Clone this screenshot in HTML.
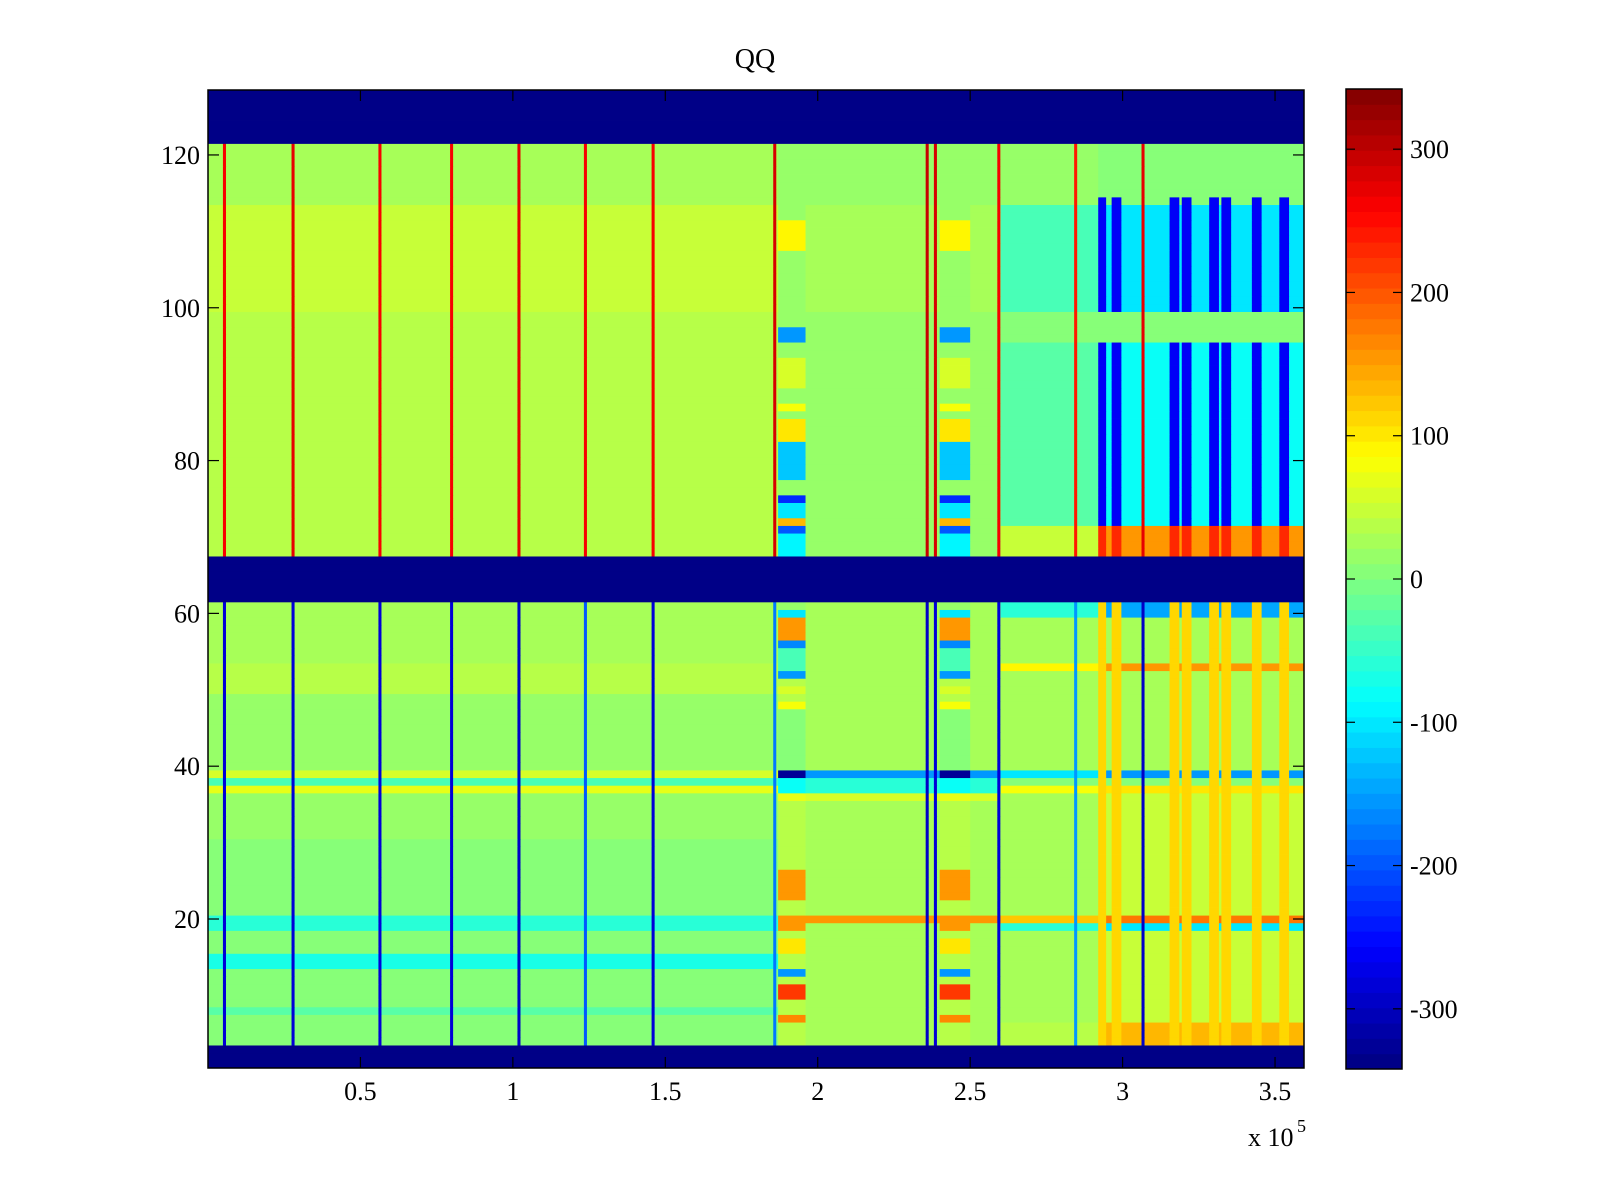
<!DOCTYPE html>
<html><head><meta charset="utf-8">
<style>
html,body{margin:0;padding:0;background:#fff;}
svg{display:block;font-family:"Liberation Serif","DejaVu Serif",serif;}
</style></head>
<body>
<svg id="chart" width="1600" height="1200" viewBox="0 0 1600 1200" xmlns="http://www.w3.org/2000/svg">
<rect x="0" y="0" width="1600" height="1200" fill="#fff"/>
<g id="cells"></g>
<g id="axes"></g>
<g id="cbar"></g>
<text x="755" y="68" font-size="28" text-anchor="middle">QQ</text>
</svg>
<script>
// ---- data (values in colour units, x in 1e5 units) ----
const rowCount = 128;
const blankRows = [[1,3],[62,67],[122,128]];
const blankValue = -342;
const regionEdges = [0, 1.87, 1.96, 2.40, 2.50, 2.60, 2.92, 3.60];
const regionKinds = ['L', 'S', 'M', 'S', 'M', 'R1', 'R2'];
const leftBands = [[4,13,0],[8,8,-30],[14,15,-70],[16,18,10],[19,20,-60],[21,30,5],[31,36,20],[37,37,70],[38,38,-40],[39,39,60],[40,49,20],[50,53,40],[54,61,25],[68,99,35],[100,113,50],[114,121,25]];
const midBands = [[4,61,30],[20,20,150],[36,36,60],[37,38,-60],[39,39,-150],[68,99,20],[100,113,30],[114,121,15]];
const stripeBands = [[4,61,40],[7,7,170],[10,11,220],[13,13,-150],[16,17,100],[19,19,150],[20,20,150],[23,26,150],[36,36,70],[37,38,-80],[39,39,-330],[40,47,0],[48,48,80],[50,50,60],[52,52,-150],[53,55,-40],[56,56,-170],[57,59,150],[60,60,-100],[61,61,20],[68,70,-90],[71,71,-200],[72,72,130],[73,74,-100],[75,75,-230],[76,77,20],[78,82,-120],[83,85,100],[86,86,20],[87,87,80],[88,89,20],[90,93,60],[94,95,20],[96,97,-150],[98,107,20],[108,111,90],[112,121,20]];
const rightBands1 = [[4,6,40],[7,18,30],[19,19,-60],[20,20,120],[21,36,30],[37,37,80],[38,38,0],[39,39,-100],[40,52,25],[53,53,90],[54,59,25],[60,61,-60],[68,71,50],[72,95,-30],[96,99,10],[100,113,-40],[114,121,15]];
const rightBands2 = [[4,6,130],[7,18,50],[19,19,-100],[20,20,180],[21,36,50],[37,37,100],[38,38,0],[39,39,-150],[40,52,30],[53,53,150],[54,59,30],[60,61,-140],[68,71,150],[72,95,-80],[96,99,0],[100,113,-100],[114,121,10]];
const lines = [0.054, 0.279, 0.564, 0.799, 1.020, 1.238, 1.460, 1.859, 2.359, 2.386, 2.594, 2.846, 3.067];
const lineTopVals = [260, 270, 260, 260, 270, 260, 260, 280, 290, 280, 260, 240, 270];
const lineBotVals = [-280, -280, -280, -280, -290, -200, -280, -180, -290, -280, -280, -150, -290];
const darkCols = [2.93, 2.98, 3.17, 3.21, 3.30, 3.34, 3.44, 3.53];
const darkUpperVal = -260;
const darkLowerVal = 110;
const cTicks = [-300, -200, -100, 0, 100, 200, 300];
const xTicks = [0.5, 1, 1.5, 2, 2.5, 3, 3.5];
const xTickLabels = ['0.5', '1', '1.5', '2', '2.5', '3', '3.5'];
const yTicks = [20, 40, 60, 80, 100, 120];

// ---- geometry ----
const PL = 208, PR = 1304, PT = 90, PB = 1068;
const XMIN = 0, XMAX = 3.595;
const CMIN = -342, CMAX = 342;
const CBL = 1346, CBR = 1402, CBT = 89, CBB = 1069;
function xs(v){ return PL + (v - XMIN) / (XMAX - XMIN) * (PR - PL); }
function ys(r){ return PB - (r - 0.5) / rowCount * (PB - PT); }
function cs(v){ return CBB - (v - CMIN) / (CMAX - CMIN) * (CBB - CBT); }
function jet(v){
  let t = (v - CMIN) / (CMAX - CMIN);
  t = Math.max(0, Math.min(1, t));
  const k = Math.min(63, Math.floor(t * 64));
  const q = (k + 0.5) / 64;
  const c = x => Math.round(255 * Math.max(0, Math.min(1, x)));
  return 'rgb(' + c(1.5 - Math.abs(4*q - 3)) + ',' + c(1.5 - Math.abs(4*q - 2)) + ',' + c(1.5 - Math.abs(4*q - 1)) + ')';
}
function bandVal(bands, r, def){
  let v = def;
  for (const b of bands) if (r >= b[0] && r <= b[1]) v = b[2];
  return v;
}
const NS = 'http://www.w3.org/2000/svg';
function mk(tag, attrs, parent){
  const e = document.createElementNS(NS, tag);
  for (const k in attrs) e.setAttribute(k, attrs[k]);
  parent.appendChild(e);
  return e;
}

// ---- column segments ----
const LW = 0.005, DW = 0.016;
let bp = regionEdges.slice();
lines.forEach(l => { bp.push(l - LW, l + LW); });
darkCols.forEach(d => { bp.push(d - DW, d + DW); });
bp = bp.filter(v => v >= XMIN && v <= XMAX).concat([XMIN, XMAX]);
bp.sort((a,b) => a - b);
bp = bp.filter((v,i) => i === 0 || v - bp[i-1] > 1e-9);

function cellValue(r, mid){
  for (const b of blankRows) if (r >= b[0] && r <= b[1]) return blankValue;
  const upper = r >= 68;
  for (let i = 0; i < lines.length; i++) {
    if (Math.abs(mid - lines[i]) < LW) return upper ? lineTopVals[i] : lineBotVals[i];
  }
  let ri = 0;
  for (let i = 0; i < regionKinds.length; i++) if (mid >= regionEdges[i] && mid < regionEdges[i+1]) ri = i;
  const kind = regionKinds[ri];
  if (kind === 'R2') {
    for (const d of darkCols) {
      if (Math.abs(mid - d) < DW) {
        if (upper && r <= 114 && !(r >= 96 && r <= 99)) return r <= 71 ? 230 : darkUpperVal;
        if (!upper && r >= 4) return darkLowerVal;
      }
    }
    return bandVal(rightBands2, r, 20);
  }
  if (kind === 'R1') return bandVal(rightBands1, r, 20);
  if (kind === 'S') return bandVal(stripeBands, r, 20);
  if (kind === 'M') return bandVal(midBands, r, 15);
  return bandVal(leftBands, r, 15);
}

const cells = document.getElementById('cells');
for (let r = 1; r <= rowCount; r++) {
  let runStart = bp[0], runColor = null;
  const y0 = ys(r + 0.5), y1 = ys(r - 0.5);
  for (let i = 0; i < bp.length - 1; i++) {
    const mid = (bp[i] + bp[i+1]) / 2;
    const col = jet(cellValue(r, mid));
    if (runColor === null) { runColor = col; runStart = bp[i]; }
    else if (col !== runColor) {
      const rc = mk('rect', {x: xs(runStart).toFixed(2), y: y0.toFixed(2), width: (xs(bp[i]) - xs(runStart) + 0.4).toFixed(2), height: (y1 - y0 + 0.4).toFixed(2), fill: runColor}, cells);
      
      
      runColor = col; runStart = bp[i];
    }
  }
  const rc = mk('rect', {x: xs(runStart).toFixed(2), y: y0.toFixed(2), width: (xs(bp[bp.length-1]) - xs(runStart)).toFixed(2), height: (y1 - y0 + 0.4).toFixed(2), fill: runColor}, cells);
  
  
}

// ---- axes ----
const axes = document.getElementById('axes');
const frame = mk('rect', {x: PL, y: PT, width: PR - PL, height: PB - PT, fill: 'none', stroke: '#000', 'stroke-width': 1.5}, axes);


xTicks.forEach((t, i) => {
  const x = xs(t);
  const a = mk('line', {x1: x, x2: x, y1: PB, y2: PB - 11, stroke: '#000', 'stroke-width': 1.2}, axes);
  
  
  const b = mk('line', {x1: x, x2: x, y1: PT, y2: PT + 11, stroke: '#000', 'stroke-width': 1.2}, axes);
  
  
  const tx = mk('text', {x: x, y: 1100, 'font-size': 26, 'text-anchor': 'middle'}, axes);
  tx.textContent = xTickLabels[i];
  
  
});
yTicks.forEach(t => {
  const y = ys(t);
  const a = mk('line', {x1: PL, x2: PL + 11, y1: y, y2: y, stroke: '#000', 'stroke-width': 1.2}, axes);
  
  
  const b = mk('line', {x1: PR, x2: PR - 11, y1: y, y2: y, stroke: '#000', 'stroke-width': 1.2}, axes);
  
  
  const tx = mk('text', {x: PL - 8, y: y + 9, 'font-size': 26, 'text-anchor': 'end'}, axes);
  tx.textContent = String(t);
  
  
});
const ex = mk('text', {x: 1248, y: 1146, 'font-size': 26}, axes);
ex.textContent = 'x 10';


const ex5 = mk('text', {x: 1297, y: 1132, 'font-size': 18}, axes);
ex5.textContent = '5';



// ---- colorbar ----
const cbar = document.getElementById('cbar');
for (let k = 0; k < 64; k++) {
  const v0 = CMIN + k * (CMAX - CMIN) / 64, v1 = CMIN + (k + 1) * (CMAX - CMIN) / 64;
  const rr = mk('rect', {x: CBL, y: cs(v1).toFixed(2), width: CBR - CBL, height: (cs(v0) - cs(v1) + 0.5).toFixed(2), fill: jet((v0 + v1) / 2)}, cbar);
  
  
}
const cf = mk('rect', {x: CBL, y: CBT, width: CBR - CBL, height: CBB - CBT, fill: 'none', stroke: '#000', 'stroke-width': 1.5}, cbar);


cTicks.forEach(t => {
  const y = cs(t);
  const a = mk('line', {x1: CBL, x2: CBL + 9, y1: y, y2: y, stroke: '#000', 'stroke-width': 1.2}, cbar);
  
  
  const b = mk('line', {x1: CBR, x2: CBR - 9, y1: y, y2: y, stroke: '#000', 'stroke-width': 1.2}, cbar);
  
  
  const tx = mk('text', {x: CBR + 8, y: y + 9, 'font-size': 26}, cbar);
  tx.textContent = String(t);
  
  
});
</script>
</body></html>
